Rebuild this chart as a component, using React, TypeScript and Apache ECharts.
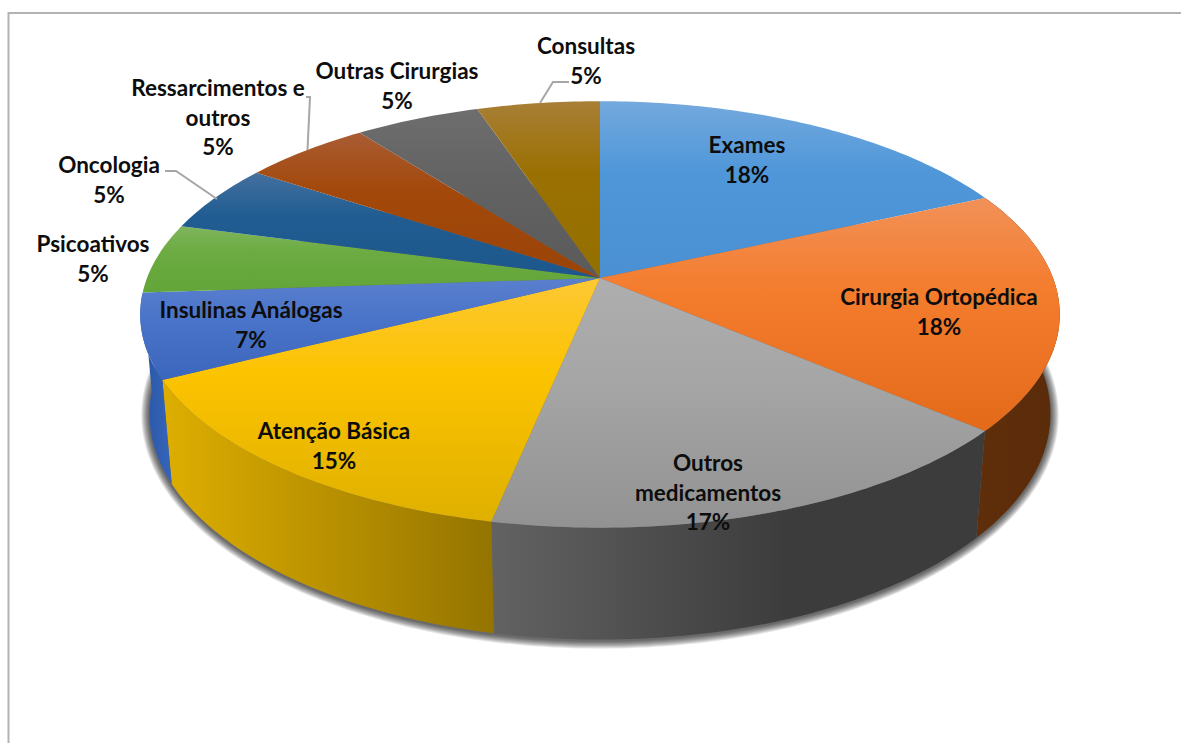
import React, { useEffect, useRef } from "react";
import * as echarts from "echarts";

// Categories, clockwise from 12 o'clock
const categories = [
  "Exames", "Cirurgia Ortopédica", "Outros medicamentos", "Atenção Básica", "Insulinas Análogas",
  "Psicoativos", "Oncologia", "Ressarcimentos e outros", "Outras Cirurgias", "Consultas",
];
// Printed percentages
const percentLabels = [18, 18, 17, 15, 7, 5, 5, 5, 5, 5];
const sliceShares = [18.2, 18.2, 16.8, 14.3, 6.4, 5.3, 5.2, 5.3, 5.2, 5.1];

// Styles
const topStops = [
  ["#74a9dd", "#4f97d9", "#4a90d2"],
  ["#f19158", "#f47c2d", "#e36a19"],
  ["#aeaeae", "#a6a6a6", "#929292"],
  ["#fdc834", "#fcc300", "#dfb000"],
  ["#5a7fce", "#4a74c9", "#3b66bd"],
  ["#7fb55c", "#6bab41", "#63a538"],
  ["#44709e", "#215d92", "#1d578c"],
  ["#a95c33", "#a3480b", "#9a4408"],
  ["#6e6e6e", "#636363", "#5a5a5a"],
  ["#a87f36", "#9b7003", "#937000"],
];
const wallStops: Record<number, string[]> = {
  1: ["#5f2e0b", "#5b2c0a"],
  2: ["#626262", "#3c3c3c", "#3c3c3c"],
  3: ["#deae00", "#947400"],
  4: ["#2a559f", "#3565bd"],
};

// Perspective model of the disc
const CX = 600, CY = 278, RX = 453, RY = 207, K = 0.171, DEPTH = 100, M = 0.02;
const project = (deg: number, z: number): number[] => {
  const t = (deg * Math.PI) / 180;
  const w = 1 + K * Math.cos(t) + M * z;
  return [CX + (RX * Math.sin(t)) / w, CY + (-RY * Math.cos(t) + DEPTH * z) / w];
};
const arcPoints = (a: number, b: number, z: number): number[][] => {
  const n = Math.max(2, Math.ceil(Math.abs(b - a)));
  const out: number[][] = [];
  for (let i = 0; i <= n; i++) out.push(project(a + ((b - a) * i) / n, z));
  return out;
};
const total = sliceShares.reduce((s, v) => s + v, 0);
const bounds = (i: number): [number, number] => {
  const before = sliceShares.slice(0, i).reduce((s, v) => s + v, 0);
  return [(before / total) * 360, ((before + sliceShares[i]) / total) * 360];
};

// Soft shadow of the disc's base: stacked translucent outlines, widest first
const SHADOW_STEPS = [8, 7, 6, 5, 4, 3, 2, 1];
const shadowRing = (grow: number): number[][] => {
  const ring = arcPoints(0, 360, 1);
  const midY = (Math.min(...ring.map((q) => q[1])) + Math.max(...ring.map((q) => q[1]))) / 2;
  return ring.map(([x, y]) => [
    CX + (x - CX) * (1 + grow / 440),
    midY + 1 + (y - midY) * (1 + grow / 225),
  ]);
};

// Label layout: centre x and y of the first line
const labelLayout = [
  [747, 144], [939, 296], [708, 462], [334, 430], [251, 309],
  [93, 243], [109, 164], [218, 87], [397, 70], [586, 45],
];
const labelBreaks: Record<number, string> = {
  2: "Outros\nmedicamentos",
  7: "Ressarcimentos e\noutros",
};
const leaders = [
  [[569, 82], [553, 82], [540, 103]],
  [[306, 97], [310, 97], [307.5, 150]],
  [[165, 171], [176, 171], [217, 199]],
];

export default function App() {
  const ref = useRef<HTMLDivElement>(null);
  useEffect(() => {
    document.body.style.margin = "0";
    document.body.style.background = "#fff";
    const chart = echarts.init(ref.current!, undefined, { renderer: "svg" });
    chart.setOption({
      animation: false,
      backgroundColor: "#ffffff",
      series: [
        {
          type: "custom",
          coordinateSystem: "none",
          silent: true,
          z: 1,
          data: SHADOW_STEPS,
          renderItem: (p: any) => ({
            type: "polygon",
            shape: { points: shadowRing(SHADOW_STEPS[p.dataIndex]) },
            style: { fill: "rgba(0,0,0,0.1)" },
          }),
        },
        {
          type: "custom",
          coordinateSystem: "none",
          silent: true,
          z: 2,
          data: sliceShares,
          renderItem: (p: any) => {
            const i = p.dataIndex;
            const stops = wallStops[i];
            if (!stops) return { type: "group", children: [] };
            const [a, b] = bounds(i);
            return {
              type: "polygon",
              shape: { points: [...arcPoints(a, b, 0), ...arcPoints(b, a, 1)] },
              style: {
                fill: {
                  type: "linear", x: 0, y: 0, x2: 1, y2: 0,
                  colorStops: stops.map((color, j) => ({
                    offset: stops.length === 3 ? [0, 0.6, 1][j] : j,
                    color,
                  })),
                },
              },
            };
          },
        },
        {
          type: "custom",
          coordinateSystem: "none",
          silent: true,
          z: 3,
          data: sliceShares,
          renderItem: (p: any) => {
            const i = p.dataIndex;
            const [a, b] = bounds(i);
            const c = topStops[i];
            return {
              type: "polygon",
              shape: { points: [[CX, CY], ...arcPoints(a, b, 0)] },
              style: {
                fill: {
                  type: "linear", x: 0, y: 0, x2: 0, y2: 1,
                  colorStops: [
                    { offset: 0, color: c[0] },
                    { offset: 0.4, color: c[1] },
                    { offset: 1, color: c[2] },
                  ],
                },
              },
            };
          },
        },
      ],
      graphic: [
        { type: "polyline", z: 5, shape: { points: [[1181, 13], [8.5, 13], [8.5, 743]] }, style: { stroke: "#b3b3b3", lineWidth: 2, fill: "none" } },
        ...leaders.map((pts) => ({
          type: "polyline", z: 5, shape: { points: pts },
          style: { stroke: "#a6a6a6", lineWidth: 2, fill: "none" },
        })),
        ...categories.map((name, i) => ({
          type: "text", z: 6,
          x: labelLayout[i][0],
          y: labelLayout[i][1] - 14,
          style: {
            text: `${labelBreaks[i] ?? name}\n${percentLabels[i]}%`,
            font: "bold 22.5px Lato",
            lineHeight: 29.5,
            fill: "#0d0d0d",
            align: "center",
            verticalAlign: "top",
          },
        })),
      ],
    });
    return () => chart.dispose();
  }, []);
  return <div ref={ref} style={{ width: 1181, height: 743 }} />;
}
